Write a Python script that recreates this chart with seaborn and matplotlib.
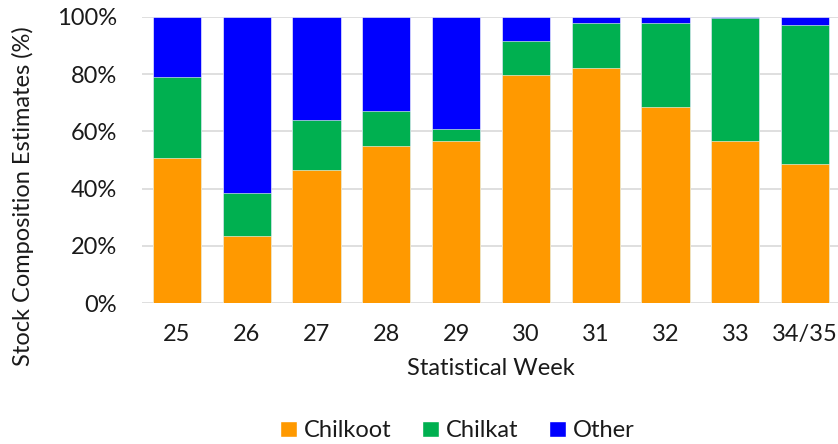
import numpy as np
import pandas as pd
import matplotlib
matplotlib.use("Agg")
import matplotlib.pyplot as plt
import seaborn as sns
from matplotlib.patches import Patch
from matplotlib.ticker import PercentFormatter

weeks = ["25", "26", "27", "28", "29", "30", "31", "32", "33", "34/35"]
chilkoot = [50.6, 23.5, 46.5, 54.9, 56.5, 79.8, 82.1, 68.5, 56.6, 48.6]
chilkat = [28.4, 15.1, 17.5, 12.2, 4.3, 11.6, 15.6, 29.4, 42.9, 48.5]
other = [21.0, 61.4, 36.0, 32.9, 39.2, 8.6, 2.3, 2.1, 0.5, 2.9]

colors = {"Chilkoot": "#FF9900", "Chilkat": "#00B050", "Other": "#0000FF"}

df = pd.DataFrame({"Week": weeks, "Chilkoot": chilkoot, "Chilkat": chilkat, "Other": other})
df["Chilkat_top"] = df["Chilkoot"] + df["Chilkat"]
df["Other_top"] = df["Chilkat_top"] + df["Other"]

sns.set_style("white")
plt.rcParams["font.family"] = ["Lato", "DejaVu Sans"]
fs = 17
txt = "#1a1a1a"

fig = plt.figure(figsize=(8.38, 4.44), dpi=100)
ax = fig.add_axes([0.1695, 0.3169, 0.833, 0.6455])

for col, name in [("Other_top", "Other"), ("Chilkat_top", "Chilkat"), ("Chilkoot", "Chilkoot")]:
    sns.barplot(data=df, x="Week", y=col, color=colors[name], width=0.69,
                saturation=1, ax=ax, edgecolor="white", linewidth=0.4, zorder=3)

ax.set_ylim(0, 100)
ax.set_yticks(np.arange(0, 101, 20))
ax.yaxis.set_major_formatter(PercentFormatter(decimals=0))
ax.grid(axis="y", color="#d9d9d9", linewidth=1.2, zorder=0)
ax.set_axisbelow(True)
for s in ax.spines.values():
    s.set_visible(False)
ax.tick_params(axis="both", length=0, labelsize=fs, colors=txt)
ax.tick_params(axis="y", pad=18)
ax.tick_params(axis="x", pad=15)
ax.set_xlabel("Statistical Week", fontsize=fs, color=txt, labelpad=9)
ax.set_ylabel("Stock Composition Estimates (%)", fontsize=fs, color=txt)
# label in the reference sits lower than the plot centre and runs off the bottom
ax.yaxis.set_label_coords(-0.155, 0.374)

handles = [Patch(facecolor=colors[n], label=n) for n in ["Chilkoot", "Chilkat", "Other"]]
fig.legend(handles=handles, loc="center", bbox_to_anchor=(0.546, 0.03), ncol=3,
           frameon=False, fontsize=fs, handlelength=0.7, handleheight=0.7,
           handletextpad=0.3, columnspacing=1.3, labelcolor=txt)

fig.savefig("out.png", dpi=100)
